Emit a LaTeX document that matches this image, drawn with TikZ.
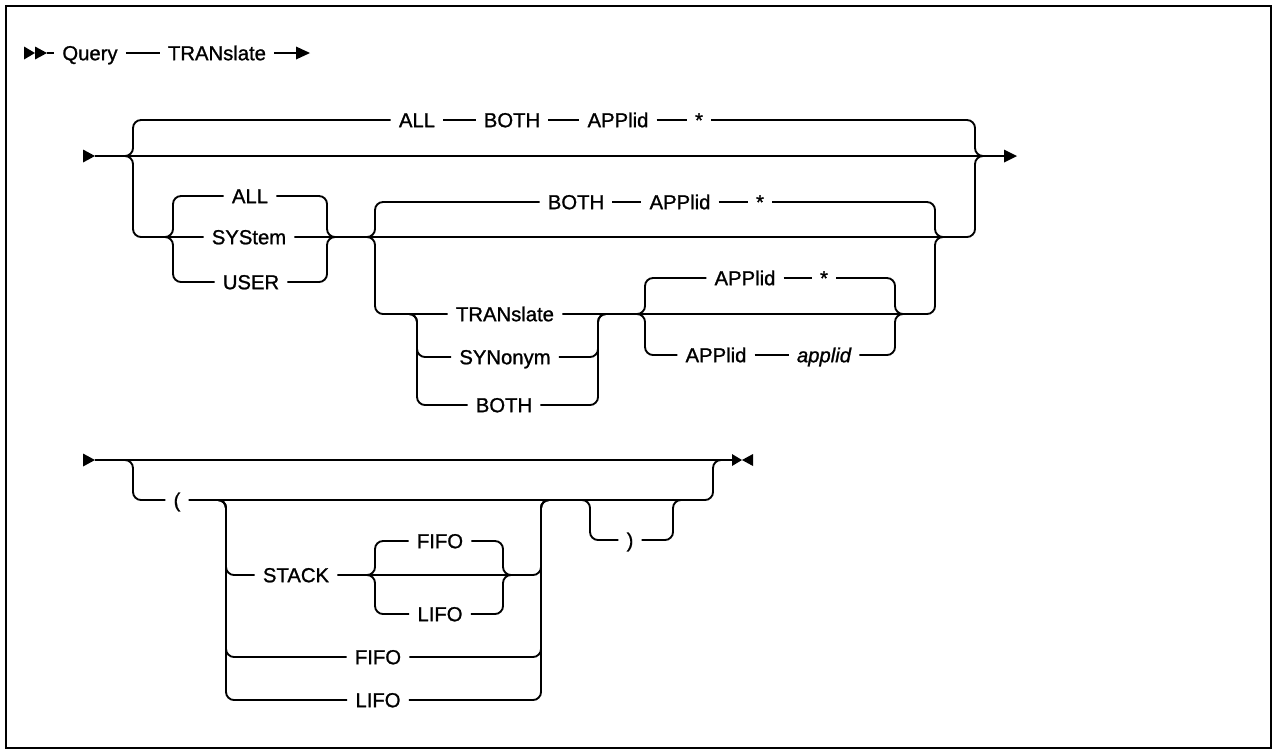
\documentclass[tikz,border=0pt]{standalone}
\usepackage{fontspec}
\setmainfont{Liberation Sans}
\newfontfamily\wfont{Liberation Sans}[FakeBold=1.1]
\usetikzlibrary{calc}
\begin{document}
\begin{tikzpicture}[x=0.75pt,y=-0.75pt]
\tikzset{
 w/.style={font=\wfont\fontsize{15.2}{18}\selectfont, inner xsep=6pt, inner ysep=0pt, text height=10.8pt, text depth=0pt},
 ln/.style={line width=1.4pt, rounded corners=6pt},
 tri/.style={fill=black},
}
\useasboundingbox (0,0) rectangle (1274,751);
\draw[line width=2pt] (6,6) rectangle (1271,748);

% ---------- row 0 ----------
\node[w] (q) at (90,53) {Query};
\node[w] (qt) at (217,53) {TRANslate};
\coordinate (r0a) at (35,53);
\coordinate (r0b) at (47,53);
\coordinate (r0e) at (310,53);
\fill[tri] (r0a) -- ++(-11,-6.5) -- ++(0,13) -- cycle;
\fill[tri] (r0b) -- ++(-12,-6.5) -- ++(0,13) -- cycle;
\draw[ln] (r0b) -- (q.west);
\draw[ln] (q.east) -- (qt.west);
\draw[ln] (qt.east) -- ($(r0e)+(-10,0)$);
\fill[tri] (r0e) -- ++(-14,-6.5) -- ++(0,13) -- cycle;

% ---------- diagram 1 ----------
\coordinate (d1s) at (95,156);
\coordinate (d1e) at (1017,156);
\fill[tri] (d1s) -- ++(-12,-6.5) -- ++(0,13) -- cycle;
\draw[ln] (d1s) -- ($(d1e)+(-10,0)$);
\fill[tri] (d1e) -- ++(-13,-6.5) -- ++(0,13) -- cycle;
\coordinate (j1) at (125,156);
\coordinate (k1) at (983,156);

% top: ALL BOTH APPlid *
\node[w] (a1) at (417,120) {ALL};
\node[w] (a2) at (512,120) {BOTH};
\node[w] (a3) at (618,120) {APPlid};
\node[w] (a4) at (699,120) {*};
\draw[ln] (j1) -| (133,120) -- (a1.west);
\draw[ln] (a1.east) -- (a2.west);
\draw[ln] (a2.east) -- (a3.west);
\draw[ln] (a3.east) -- (a4.west);
\draw[ln] (a4.east) -| (975,156) -- (k1);

% lower branch
\node[w] (sall) at (250,196) {ALL};
\node[w] (ssys) at (249,237) {SYStem};
\node[w] (suser) at (251,282) {USER};
\coordinate (j2) at (165,237);
\coordinate (k2) at (335,237);
\draw[ln] (j1) -| (133,237) -- (ssys.west);
\draw[ln] (j2) -| (173,196) -- (sall.west);
\draw[ln] (j2) -| (173,282) -- (suser.west);
\draw[ln] (sall.east) -| (327,237) -- (k2);
\draw[ln] (suser.east) -| (327,237) -- (k2);
\draw[ln] (ssys.east) -| (975,156) -- (k1);

% BOTH APPlid * (second choice, above)
\coordinate (j3) at (367,237);
\coordinate (k3) at (943,237);
\node[w] (b1) at (576,202) {BOTH};
\node[w] (b2) at (680,202) {APPlid};
\node[w] (b3) at (760,202) {*};
\draw[ln] (j3) -| (375,202) -- (b1.west);
\draw[ln] (b1.east) -- (b2.west);
\draw[ln] (b2.east) -- (b3.west);
\draw[ln] (b3.east) -| (935,237) -- (k3);

% TRANslate / SYNonym / BOTH
\node[w] (t1) at (505,314) {TRANslate};
\node[w] (t2) at (505,357) {SYNonym};
\node[w] (t3) at (504,405) {BOTH};
\coordinate (j4) at (409,314);
\coordinate (k4) at (606,314);
\draw[ln] (j3) -| (375,314) -- (t1.west);
\draw[ln] (j4) -| (417,357) -- (t2.west);
\draw[ln] (j4) -| (417,405) -- (t3.west);
\draw[ln] (t2.east) -| (598,314) -- (k4);
\draw[ln] (t3.east) -| (598,314) -- (k4);
\draw[ln] (t1.east) -| (935,237) -- (k3);

% APPlid * / APPlid applid
\coordinate (j5) at (637,314);
\coordinate (k5) at (903,314);
\node[w] (p1) at (745,278) {APPlid};
\node[w] (p2) at (824,278) {*};
\node[w] (p3) at (716,355) {APPlid};
\node[w] (p4) at (824,355) {\itshape applid};
\draw[ln] (j5) -| (645,278) -- (p1.west);
\draw[ln] (p1.east) -- (p2.west);
\draw[ln] (p2.east) -| (895,314) -- (k5);
\draw[ln] (j5) -| (645,355) -- (p3.west);
\draw[ln] (p3.east) -- (p4.west);
\draw[ln] (p4.east) -| (895,314) -- (k5);

% ---------- diagram 2 ----------
\coordinate (d2s) at (95,460);
\coordinate (d2e) at (742,460);
\fill[tri] (d2s) -- ++(-12,-6.5) -- ++(0,13) -- cycle;
\draw[ln] (d2s) -- ($(d2e)+(-8,0)$);
\fill[tri] (d2e) -- ++(-10,-6) -- ++(0,12) -- cycle;
\fill[tri] (d2e) -- ++(11,-6) -- ++(0,12) -- cycle;
\coordinate (j6) at (125,460);
\coordinate (k6) at (721,460);
\node[w] (lp) at (177,500) {(};
\draw[ln] (j6) -| (133,500) -- (lp.west);
\draw[ln] (lp.east) -| (713,460) -- (k6);

\coordinate (j7) at (218,500);
\coordinate (k7) at (549,500);
\node[w] (st) at (296,575) {STACK};
\node[w] (ff) at (378,657) {FIFO};
\node[w] (lf) at (378,700) {LIFO};
\draw[ln] (j7) -| (226,575) -- (st.west);
\draw[ln] (j7) -| (226,657) -- (ff.west);
\draw[ln] (j7) -| (226,700) -- (lf.west);
\draw[ln] (st.east) -| (541,500) -- (k7);
\draw[ln] (ff.east) -| (541,500) -- (k7);
\draw[ln] (lf.east) -| (541,500) -- (k7);

\coordinate (j8) at (367,575);
\coordinate (k8) at (511,575);
\node[w] (sf) at (440,541) {FIFO};
\node[w] (sl) at (440,614) {LIFO};
\draw[ln] (j8) -| (375,541) -- (sf.west);
\draw[ln] (j8) -| (375,614) -- (sl.west);
\draw[ln] (sf.east) -| (503,575) -- (k8);
\draw[ln] (sl.east) -| (503,575) -- (k8);

\coordinate (j9) at (582,500);
\coordinate (k9) at (681,500);
\node[w] (rp) at (630,540) {)};
\draw[ln] (j9) -| (590,540) -- (rp.west);
\draw[ln] (rp.east) -| (673,500) -- (k9);
\end{tikzpicture}
\end{document}
